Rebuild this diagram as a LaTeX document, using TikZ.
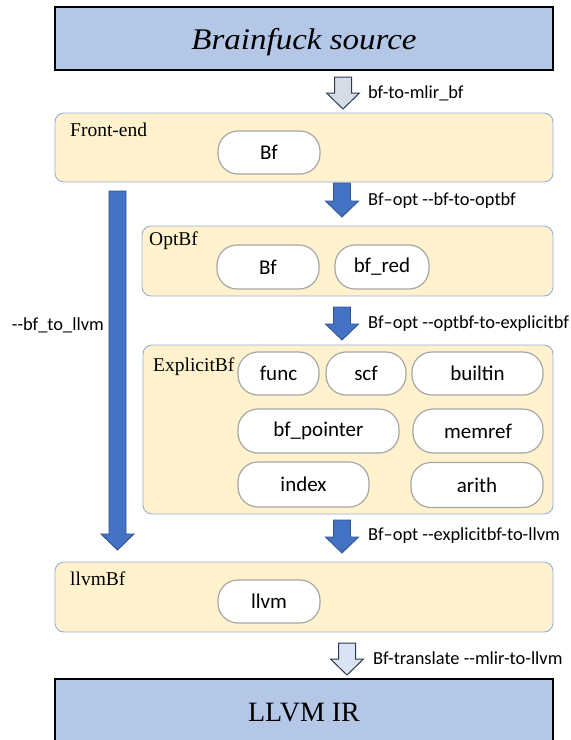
\documentclass[tikz,border=0pt]{standalone}
\usepackage{fontspec}
\setmainfont{Liberation Serif}
\newfontfamily\calfont{Carlito}
\newfontfamily\titlefont{Liberation Serif}[FakeStretch=1.1]
\usepackage{tikz}
\usetikzlibrary{calc}
\definecolor{srcblue}{HTML}{B4C7E7}
\definecolor{groupfill}{HTML}{FFF2CC}
\definecolor{groupline}{HTML}{94B0DA}
\definecolor{pillline}{HTML}{A6A6A6}
\definecolor{passblue}{HTML}{4472C4}
\definecolor{passline}{HTML}{2F528F}
\definecolor{hollowfill}{HTML}{D6DCE5}
\definecolor{hollowfill2}{HTML}{DAE3F3}
\definecolor{hollowline}{HTML}{2B3A4F}
% block arrow pointing down, argument = total length
\tikzset{
	pics/passarrow/.style={code={
		\draw[pic actions] (-8.5,0)--(8.5,0)--(8.5,#1-16)--(16.5,#1-16)--(0,#1)--(-16.5,#1-16)--(-8.5,#1-16)--cycle;
	}},
}

\begin{document}
\begin{tikzpicture}[x=1pt,y=-1pt,
	endbox/.style={draw,line width=1.2pt,fill=srcblue,inner sep=0pt},
	group/.style={draw=groupline,fill=groupfill,line width=0.9pt,rounded corners=9pt,inner sep=0pt},
	grouplabel/.style={anchor=west,inner sep=0pt,font=\fontsize{19.5}{22}\selectfont},
	dialect/.style={draw=pillline,fill=white,line width=1.2pt,rounded corners=20pt,inner sep=0pt,minimum height=44pt,font=\calfont\fontsize{21}{25}\selectfont},
	passlabel/.style={anchor=west,inner sep=0pt,font=\calfont\fontsize{18.4}{22}\selectfont},
	solidpass/.style={draw=passline,fill=passblue,line width=0.9pt},
	hollowpass/.style={draw=hollowline,fill=hollowfill,line width=1pt},
]
	\clip (0,0) rectangle (571,740);
	% source and target
	\node[endbox,minimum width=498pt,minimum height=63pt,text depth=0pt] (source) at (304,38.5) {\titlefont\fontsize{30}{34}\selectfont\itshape Brainfuck source};
	\node[endbox,minimum width=498pt,minimum height=68pt] (llvmir) at (304,713) {\fontsize{28}{34}\selectfont LLVM IR};
	% dialect groups
	\node[group,minimum width=498pt,minimum height=69pt] (frontend) at (304,147.5) {};
	\node[group,minimum width=411pt,minimum height=70pt] (optbf) at (347.5,261) {};
	\node[group,minimum width=410pt,minimum height=169pt] (explicitbf) at (348,429.5) {};
	\node[group,minimum width=498pt,minimum height=70pt] (llvmbf) at (304,597) {};
	\node[grouplabel] (frontendlbl) at (70,130) {Front-end};
	\node[grouplabel] (optbflbl) at (149,241) {OptBf};
	\node[grouplabel] (explicitbflbl) at (153,367) {ExplicitBf};
	\node[grouplabel] (llvmbflbl) at (70,579) {llvmBf};
	% dialects
	\node[dialect,minimum width=102pt,minimum height=43pt] (bf1) at (269,152.5) {Bf};
	\node[dialect,minimum width=102pt] (bf2) at (268,267) {Bf};
	\node[dialect,minimum width=94pt] (bfred) at (382,267) {bf\_red};
	\node[dialect,minimum width=81pt,minimum height=43pt] (func) at (278.5,373.5) {func};
	\node[dialect,minimum width=80pt,minimum height=43pt] (scf) at (366,373.5) {scf};
	\node[dialect,minimum width=131pt,minimum height=43pt] (builtin) at (477.5,373.5) {builtin};
	\node[dialect,minimum width=161pt] (bfpointer) at (318.5,431) {bf\_pointer};
	\node[dialect,minimum width=130pt] (memref) at (478,431) {memref};
	\node[dialect,minimum width=131pt,minimum height=45pt] (index) at (303.5,484.5) {index};
	\node[dialect,minimum width=132pt,minimum height=45pt] (arith) at (477,485) {arith};
	\node[dialect,minimum width=102pt,minimum height=43pt] (llvm) at (269,601.5) {llvm};
	% passes
	\pic[hollowpass] (toplain) at (343,77) {passarrow=32};
	\pic[solidpass] (tooptbf) at (342,183) {passarrow=34};
	\pic[solidpass] (toexplicit) at (342,307) {passarrow=33};
	\pic[solidpass] (tollvmbf) at (342,520) {passarrow=33};
	\pic[solidpass] (direct) at (117.5,191) {passarrow=359};
	\pic[hollowpass,fill=hollowfill2] (translate) at (347,643) {passarrow=32};
	\node[passlabel] (toplainlbl) at (368,93) {bf-to-mlir\_bf};
	\node[passlabel] (tooptbflbl) at (368,201) {Bf–opt --bf-to-optbf};
	\node[passlabel] (toexplicitlbl) at (368,324) {Bf–opt --optbf-to-explicitbf};
	\node[passlabel] (tollvmbflbl) at (368,536) {Bf–opt --explicitbf-to-llvm};
	\node[passlabel,anchor=east] (directlbl) at (104,325) {--bf\_to\_llvm};
	\node[passlabel] (translatelbl) at (373,658) {Bf-translate --mlir-to-llvm};
\end{tikzpicture}
\end{document}
